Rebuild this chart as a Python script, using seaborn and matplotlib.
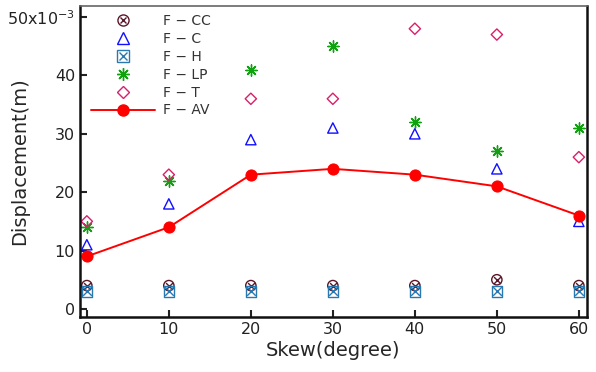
import seaborn as sns
import matplotlib.pyplot as plt
from matplotlib.lines import Line2D

skew = [0, 10, 20, 30, 40, 50, 60]
f_cc = [4, 4, 4, 4, 4, 5, 4]
f_c = [11, 18, 29, 31, 30, 24, 15]
f_h = [3, 3, 3, 3, 3, 3, 3]
f_lp = [14, 22, 41, 45, 32, 27, 31]
f_t = [15, 23, 36, 36, 48, 47, 26]
f_av = [9, 14, 23, 24, 23, 21, 16]

x_ticks = [0, 10, 20, 30, 40, 50, 60]
y_ticks = [0, 10, 20, 30, 40, 50]
y_labels = ["0", "10", "20", "30", "40", "50x10$^{-3}$"]

sns.set_style("ticks")
plt.rcParams["font.family"] = ["DejaVu Sans"]
plt.rcParams["mathtext.fontset"] = "dejavusans"

fig = plt.figure(figsize=(5.96, 3.72), dpi=100)
ax = fig.add_axes([0.134, 0.148, 0.851, 0.836])

c_cc, c_c, c_h, c_lp, c_t, c_av = "#5a1628", "#1010ff", "#2a78b0", "#10a010", "#d8206a", "#ff0000"
ms = 55

# F-CC: circle with x
sns.scatterplot(x=skew, y=f_cc, ax=ax, marker="o", s=ms, facecolor="none",
                edgecolor=c_cc, linewidth=1.0)
sns.scatterplot(x=skew, y=f_cc, ax=ax, marker="x", s=ms * 0.45, color=c_cc, linewidth=1.0)
# F-C: open triangle
sns.scatterplot(x=skew, y=f_c, ax=ax, marker="^", s=ms, facecolor="none",
                edgecolor=c_c, linewidth=1.0)
# F-H: box with x
sns.scatterplot(x=skew, y=f_h, ax=ax, marker="s", s=ms, facecolor="none",
                edgecolor=c_h, linewidth=1.0)
sns.scatterplot(x=skew, y=f_h, ax=ax, marker="x", s=ms * 0.7, color=c_h, linewidth=1.0)
# F-LP: asterisk
sns.scatterplot(x=skew, y=f_lp, ax=ax, marker=(8, 2, 0), s=ms * 1.2, color=c_lp, linewidth=1.0)
# F-T: open diamond
sns.scatterplot(x=skew, y=f_t, ax=ax, marker="D", s=ms * 0.6, facecolor="none",
                edgecolor=c_t, linewidth=1.0)
# F-AV: line + filled circles
sns.lineplot(x=skew, y=f_av, ax=ax, color=c_av, linewidth=1.4, marker="o",
             markersize=8, markeredgecolor=c_av)

handles = [
    (Line2D([], [], ls="", marker="o", mfc="none", mec=c_cc, ms=8),
     Line2D([], [], ls="", marker="x", color=c_cc, ms=5)),
    Line2D([], [], ls="", marker="^", mfc="none", mec=c_c, ms=8),
    (Line2D([], [], ls="", marker="s", mfc="none", mec=c_h, ms=8),
     Line2D([], [], ls="", marker="x", color=c_h, ms=6)),
    Line2D([], [], ls="", marker=(8, 2, 0), color=c_lp, ms=9),
    Line2D([], [], ls="", marker="D", mfc="none", mec=c_t, ms=6),
    Line2D([], [], color=c_av, lw=1.4, marker="o", ms=8),
]
labels = ["F − CC", "F − C", "F − H", "F − LP", "F − T", "F − AV"]
ax.legend(handles, labels, loc="upper left", bbox_to_anchor=(0.0, 1.01), frameon=False,
          fontsize=10, handlelength=4.6, labelspacing=0.28, handletextpad=0.6,
          borderaxespad=0.4, labelcolor="#333333")

ax.set_xlim(-0.85, 61.0)
ax.set_ylim(-1.37, 51.9)
ax.set_xticks(x_ticks)
ax.set_yticks(y_ticks)
ax.set_yticklabels(y_labels)
ax.tick_params(direction="in", length=5, width=1.5, labelsize=11.5, colors="#222222")
ax.set_xlabel("Skew(degree)", fontsize=14, labelpad=3)
ax.set_ylabel("Displacement(m)", fontsize=14)
ax.yaxis.set_label_coords(-0.1, 0.5)
for side in ["left", "bottom", "right"]:
    ax.spines[side].set_linewidth(1.8)
    ax.spines[side].set_color("#111111")
ax.spines["top"].set_linewidth(1.2)
ax.spines["top"].set_color("#666666")

fig.savefig("out.png", dpi=100)
plt.close(fig)
